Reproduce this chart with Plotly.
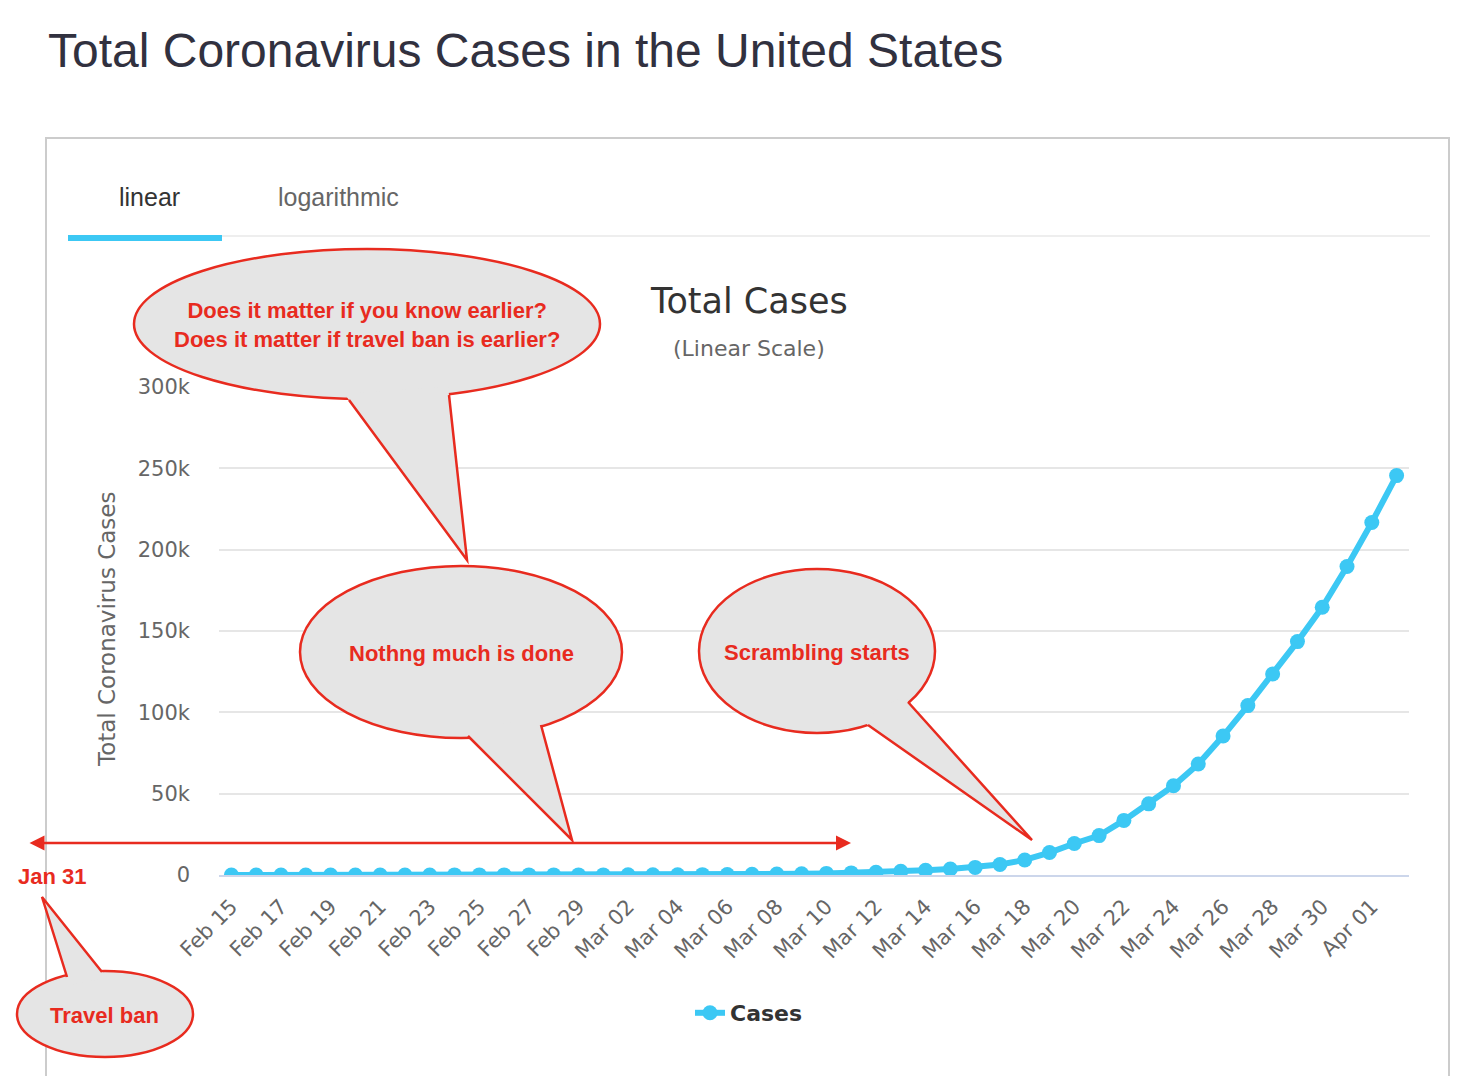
import plotly.graph_objects as go

# data (US total cases, Feb 15 - Apr 02)
dates = ["Feb 15", "Feb 16", "Feb 17", "Feb 18", "Feb 19", "Feb 20", "Feb 21", "Feb 22",
         "Feb 23", "Feb 24", "Feb 25", "Feb 26", "Feb 27", "Feb 28", "Feb 29", "Mar 01",
         "Mar 02", "Mar 03", "Mar 04", "Mar 05", "Mar 06", "Mar 07", "Mar 08", "Mar 09",
         "Mar 10", "Mar 11", "Mar 12", "Mar 13", "Mar 14", "Mar 15", "Mar 16", "Mar 17",
         "Mar 18", "Mar 19", "Mar 20", "Mar 21", "Mar 22", "Mar 23", "Mar 24", "Mar 25",
         "Mar 26", "Mar 27", "Mar 28", "Mar 29", "Mar 30", "Mar 31", "Apr 01", "Apr 02"]
cases = [15, 15, 15, 15, 15, 15, 35, 35, 35, 53, 53, 59, 60, 62, 70, 75,
         100, 124, 158, 221, 319, 435, 541, 704, 994, 1301, 1697, 2247, 2943, 3680, 4663, 6411,
         9259, 13789, 19383, 24207, 33566, 43734, 54821, 68211, 85435, 104126, 123578, 143491,
         164620, 189618, 216722, 245540]
y_ticks = [0, 50000, 100000, 150000, 200000, 250000, 300000]
y_labels = ["0", "50k", "100k", "150k", "200k", "250k", "300k"]

RED = "#e82b1f"
GREY = "#e5e5e5"
BLUE = "#3cc8f4"
CHART_FONT = "DejaVu Sans"

# plot area in screen pixels; the page puts the figure 8px in from the corner
X0, X1, Y0, Y1 = 219, 1409, 387, 875
OFF = 8
W, H = 1458 - 2 * OFF, 1084 - 2 * OFF


def px(x):
    return (x - X0) / (X1 - X0)


def py(y):
    return (Y1 - y) / (Y1 - Y0)


fig = go.Figure()
fig.add_trace(go.Scatter(
    x=dates, y=cases, name="Cases", mode="lines+markers",
    line=dict(color=BLUE, width=6), marker=dict(color=BLUE, size=15),
    hoverinfo="skip"))

shapes = []
annos = []

# page frame, tabs
shapes.append(dict(type="rect", xref="paper", yref="paper", x0=px(46), x1=px(1449), y0=py(138), y1=py(1090),
                   line=dict(color="#cccccc", width=2), fillcolor="rgba(0,0,0,0)", layer="below"))
shapes.append(dict(type="line", xref="paper", yref="paper", x0=px(222), x1=px(1430), y0=py(236), y1=py(236),
                   line=dict(color="#eeeeee", width=2)))
shapes.append(dict(type="rect", xref="paper", yref="paper", x0=px(68), x1=px(222), y0=py(235), y1=py(241),
                   line=dict(width=0), fillcolor=BLUE))


def bubble(cx, cy, rx, ry, base_a, base_b, tip):
    shapes.append(dict(type="circle", xref="paper", yref="paper",
                       x0=px(cx - rx), x1=px(cx + rx), y0=py(cy + ry), y1=py(cy - ry),
                       line=dict(color=RED, width=2.5), fillcolor=GREY))
    # push the tail base a bit into the ellipse so the fill hides its border there
    def inside(p):
        dx, dy = p[0] - tip[0], p[1] - tip[1]
        d = (dx ** 2 + dy ** 2) ** 0.5
        return (p[0] + dx / d * 8, p[1] + dy / d * 8)
    a2, b2 = inside(base_a), inside(base_b)
    path = "M {},{} L {},{} L {},{} L {},{} L {},{} Z".format(
        px(a2[0]), py(a2[1]), px(base_a[0]), py(base_a[1]), px(tip[0]), py(tip[1]),
        px(base_b[0]), py(base_b[1]), px(b2[0]), py(b2[1]))
    shapes.append(dict(type="path", xref="paper", yref="paper", path=path,
                       fillcolor=GREY, line=dict(width=0)))
    edges = "M {},{} L {},{} L {},{}".format(px(base_a[0]), py(base_a[1]), px(tip[0]), py(tip[1]),
                                              px(base_b[0]), py(base_b[1]))
    shapes.append(dict(type="path", xref="paper", yref="paper", path=edges,
                       line=dict(color=RED, width=2.5)))


bubble(367, 324, 233, 75, (349, 400), (449, 395), (467, 560))
bubble(461, 652, 161, 86, (468, 736), (541, 725), (572, 840))
bubble(817, 651, 118, 82, (868, 725), (908, 702), (1032, 840))
bubble(105, 1014, 88, 43, (67, 977), (102, 972), (42, 897))


def label(x, y, text, size, color, family="Liberation Sans", bold=False, **kw):
    annos.append(dict(x=px(x), y=py(y), xref="paper", yref="paper", text=text, showarrow=False,
                      font=dict(size=size, color=color, family=family, weight="bold" if bold else "normal"),
                      xanchor=kw.pop("xanchor", "center"), yanchor="middle", **kw))


label(46, 51, "Total Coronavirus Cases in the United States", 48, "#31313f", xanchor="left")
label(149, 197, "linear", 25, "#333333")
label(338, 197, "logarithmic", 25, "#666666")
label(749, 301, "Total Cases", 35, "#333333", family=CHART_FONT)
label(749, 348, "(Linear Scale)", 22, "#666666", family=CHART_FONT)
label(107, 630, "Total Coronavirus Cases", 23, "#666666", family=CHART_FONT, textangle=-90)
label(367, 325, "Does it matter if you know earlier?<br>Does it matter if travel ban is earlier?", 22, RED, bold=True)
label(461, 653, "Nothng much is done", 22, RED, bold=True)
label(817, 652, "Scrambling starts", 22, RED, bold=True)
label(105, 1015, "Travel ban", 22, RED, bold=True)
label(52, 876, "Jan 31", 22, RED, bold=True)

# double headed arrow for the travel ban period
annos.append(dict(x=px(851), y=py(843), ax=28 - 851, ay=0, xref="paper", yref="paper",
                  axref="pixel", ayref="pixel", text="", showarrow=True, arrowside="end+start",
                  arrowhead=2, arrowsize=1.2, arrowwidth=2.5, arrowcolor=RED))

fig.update_layout(
    width=W, height=H,
    margin=dict(l=X0 - OFF, r=W - (X1 - OFF), t=Y0 - OFF, b=H - (Y1 - OFF)),
    paper_bgcolor="white", plot_bgcolor="white",
    font=dict(family=CHART_FONT, color="#666666"),
    shapes=shapes, annotations=annos,
    showlegend=True,
    legend=dict(orientation="h", x=px(749), y=py(1013), xanchor="center", yanchor="middle",
                font=dict(size=22, color="#333333", weight="bold"), itemwidth=30),
    hovermode=False,
)
fig.update_xaxes(type="category", range=[-0.5, len(dates) - 0.5],
                 tickmode="array", tickvals=dates[::2], ticktext=dates[::2],
                 tickangle=-45, tickfont=dict(size=21, color="#666666"),
                 showgrid=False, showline=True, linecolor="#ccd6eb", linewidth=2,
                 ticks="", ticklabelstandoff=9, zeroline=False)
fig.update_yaxes(range=[0, 300000], tickmode="array", tickvals=y_ticks, ticktext=y_labels,
                 tickfont=dict(size=21, color="#666666"),
                 showgrid=True, gridcolor="#e6e6e6", gridwidth=2, zeroline=False,
                 ticklabelstandoff=28)

fig.write_html("out.html")
